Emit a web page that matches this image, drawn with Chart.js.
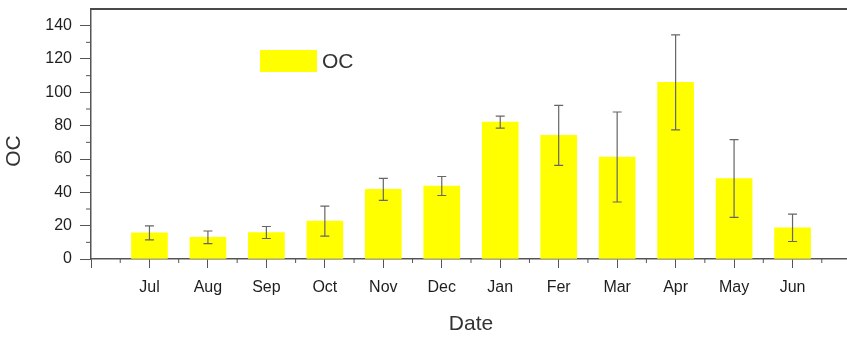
<!DOCTYPE html>
<html>
<head>
<meta charset="utf-8">
<script src="https://cdn.jsdelivr.net/npm/chart.js@4"></script>
<style>
  html, body { margin: 0; padding: 0; background: #fff; overflow: hidden; }
  #wrap { width: 856px; height: 337px; }
</style>
</head>
<body>
<div id="wrap"><canvas id="chart"></canvas></div>
<script>
const months = ['Jul', 'Aug', 'Sep', 'Oct', 'Nov', 'Dec', 'Jan', 'Fer', 'Mar', 'Apr', 'May', 'Jun'];
const ocMean = [15.7, 13.0, 15.9, 22.7, 41.8, 43.8, 82.1, 74.2, 61.2, 106, 48.3, 18.7];
const ocErr = [4.2, 3.8, 3.6, 9.0, 6.6, 5.7, 3.6, 18, 27, 28.5, 23.3, 8.2];
const yTicks = [0, 20, 40, 60, 80, 100, 120, 140];

const barColor = '#ffff00';
const axisColor = '#555';
const textColor = '#1e1e1e';
const fontFamily = '"Liberation Sans", Arial, sans-serif';

// minor ticks, top line, error bars, legend and y title
const extras = {
  id: 'extras',
  afterDatasetsDraw(chart) {
    const ctx = chart.ctx;
    const x = chart.scales.x;
    const y = chart.scales.y;
    const area = chart.chartArea;

    ctx.save();
    // error bars
    ctx.strokeStyle = '#666';
    ctx.lineWidth = 1.2;
    ocMean.forEach((m, i) => {
      const px = x.getPixelForValue(i + 1);
      const top = y.getPixelForValue(m + ocErr[i]);
      const bot = y.getPixelForValue(m - ocErr[i]);
      ctx.beginPath();
      ctx.moveTo(px, top); ctx.lineTo(px, bot);
      ctx.moveTo(px - 4.5, top); ctx.lineTo(px + 4.5, top);
      ctx.moveTo(px - 4.5, bot); ctx.lineTo(px + 4.5, bot);
      ctx.stroke();
    });

    // minor ticks
    ctx.strokeStyle = axisColor;
    ctx.lineWidth = 1;
    ctx.beginPath();
    for (let v = 10; v < 150; v += 20) {
      const py = y.getPixelForValue(v);
      ctx.moveTo(area.left - 5, py); ctx.lineTo(area.left, py);
    }
    for (let v = 0.5; v < 13; v += 1) {
      const px = x.getPixelForValue(v);
      ctx.moveTo(px, area.bottom); ctx.lineTo(px, area.bottom + 4);
    }
    ctx.stroke();

    // top frame line
    ctx.strokeStyle = '#4a4a4a';
    ctx.lineWidth = 2;
    ctx.beginPath();
    ctx.moveTo(area.left - 1, area.top);
    ctx.lineTo(area.right, area.top);
    ctx.stroke();

    // legend
    const ds = chart.data.datasets[0];
    ctx.fillStyle = ds.backgroundColor;
    ctx.fillRect(260, 50, 57, 22);
    ctx.fillStyle = '#333';
    ctx.font = '21px ' + fontFamily;
    ctx.textBaseline = 'middle';
    ctx.textAlign = 'left';
    ctx.fillText(ds.label, 322, 62);

    // y title
    ctx.translate(14, 151);
    ctx.rotate(-Math.PI / 2);
    ctx.textAlign = 'center';
    ctx.fillText('OC', 0, 0);
    ctx.restore();
  }
};

const ctx = document.getElementById('chart').getContext('2d');
new Chart(ctx, {
  type: 'bar',
  data: {
    datasets: [{
      label: 'OC',
      data: ocMean.map((v, i) => ({ x: i + 1, y: v })),
      backgroundColor: barColor,
      borderWidth: 0,
      barThickness: 36
    }]
  },
  options: {
    responsive: true,
    maintainAspectRatio: false,
    animation: false,
    layout: { padding: { top: 9, right: 5, left: 0, bottom: 0 } },
    plugins: {
      legend: { display: false },
      tooltip: { enabled: false }
    },
    scales: {
      x: {
        type: 'linear',
        min: 0,
        max: 13,
        offset: false,
        afterBuildTicks: s => { s.ticks = Array.from({ length: 14 }, (_, i) => ({ value: i })); },
        afterFit: s => { s.height = 78; s.paddingLeft = 0; s.paddingRight = 0; },
        ticks: {
          autoSkip: false,
          maxRotation: 0,
          padding: 10,
          color: textColor,
          font: { family: fontFamily, size: 16 },
          callback: v => months[v - 1] || ''
        },
        grid: { drawOnChartArea: false, offset: false, tickLength: 9, color: axisColor },
        border: { color: axisColor, width: 1.5 },
        title: {
          display: true,
          text: 'Date',
          color: '#333',
          font: { family: fontFamily, size: 21 },
          padding: { top: 0, bottom: 0 }
        }
      },
      y: {
        min: 0,
        max: 150,
        afterBuildTicks: s => { s.ticks = yTicks.map(v => ({ value: v })); },
        afterFit: s => { s.width = 91; s.paddingTop = 0; s.paddingBottom = 0; },
        ticks: {
          padding: 8,
          color: textColor,
          font: { family: fontFamily, size: 16 }
        },
        grid: { drawOnChartArea: false, tickLength: 11, color: axisColor },
        border: { color: axisColor, width: 1.5 }
      }
    }
  },
  plugins: [extras]
});
</script>
</body>
</html>
